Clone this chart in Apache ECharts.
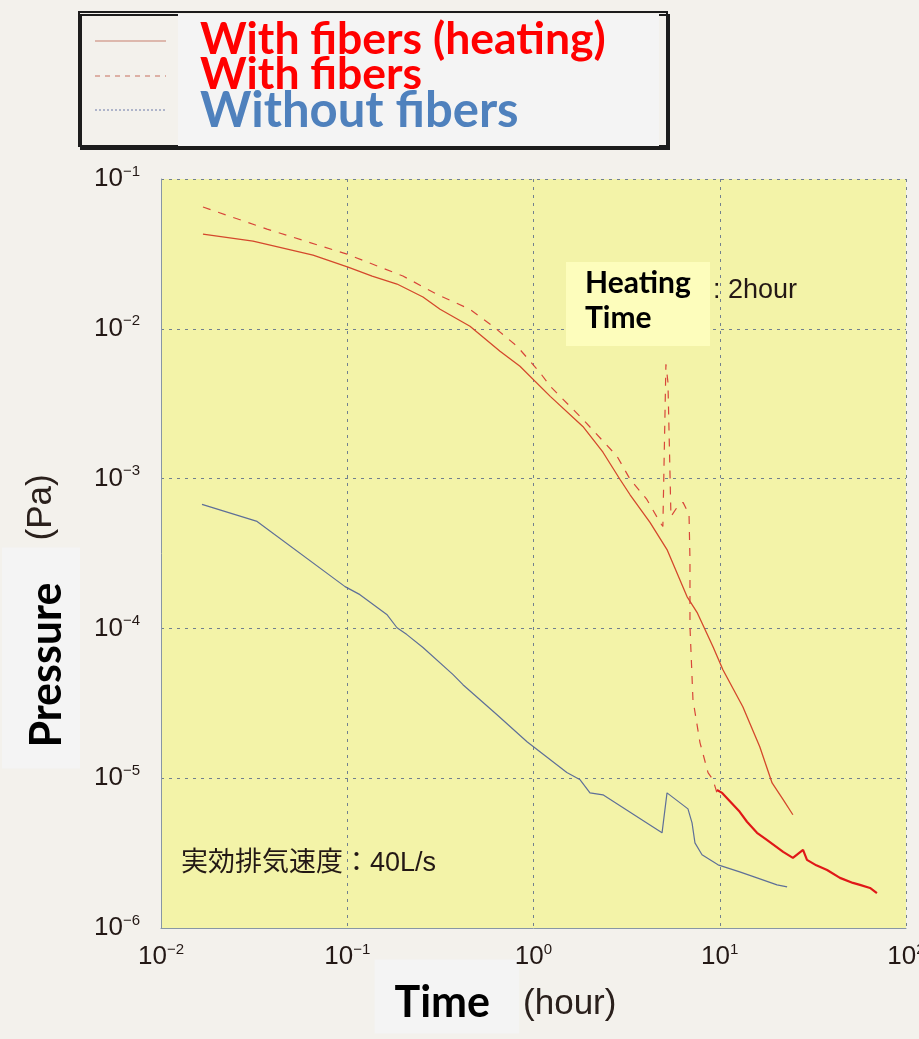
<!DOCTYPE html>
<html><head><meta charset="utf-8">
<script src="https://cdn.jsdelivr.net/npm/echarts@6/dist/echarts.min.js"></script>
<style>html,body{margin:0;padding:0;background:#f3f1ec;}#chart{width:919px;height:1039px;}</style>
</head><body><div id="chart"></div>
<script>
// ---- data (time in hours, pressure in Pa) ----
const xTicks = [0.01, 0.1, 1, 10, 100];
const yTicks = [1e-6, 1e-5, 1e-4, 1e-3, 1e-2, 1e-1];

const heatingTime = [0.0168, 0.0312, 0.0655, 0.101, 0.136, 0.185, 0.255, 0.315, 0.456, 0.661, 0.846, 1.23, 1.84, 2.36, 2.91, 3.30, 4.22, 5.21, 6.67, 7.55, 9.2, 10.4, 13.3, 16.4, 19.1, 21.9, 24.7];
const heatingPressure = [0.0429, 0.0385, 0.0310, 0.0258, 0.0225, 0.0199, 0.0163, 0.0135, 0.0104, 0.00708, 0.00562, 0.00354, 0.00223, 0.00150, 9.9e-4, 7.8e-4, 5.1e-4, 3.36e-4, 1.63e-4, 1.28e-4, 7.55e-5, 5.3e-5, 3.0e-5, 1.62e-5, 9.3e-6, 7.2e-6, 5.7e-6];

const fibersTime = [0.0168, 0.0371, 0.0997, 0.199, 0.303, 0.456, 0.606, 0.815, 1.08, 1.23, 1.84, 2.81, 3.30, 4.06, 4.78, 4.95, 5.14, 5.27, 5.41, 5.47, 5.89, 6.35, 6.84, 6.92, 6.92, 7.18, 7.83, 8.65, 9.2, 9.66];
const fibersPressure = [0.0650, 0.0463, 0.0315, 0.0225, 0.0170, 0.0135, 0.0104, 0.00766, 0.00513, 0.00413, 0.00249, 0.00141, 9.9e-4, 7.26e-4, 5.1e-4, 4.79e-4, 5.8e-3, 4.40e-3, 1.035e-3, 5.58e-4, 6.41e-4, 6.94e-4, 5.77e-4, 2.88e-4, 1.03e-4, 3.34e-5, 1.73e-5, 1.09e-5, 9.75e-6, 7.98e-6];

const fibersTailTime = [9.66, 10.3, 12.8, 14.0, 15.85, 17.9, 21.9, 24.7, 28.0, 29.4, 33.0, 37.7, 44.2, 51.9, 56.6, 64.1, 69.8];
const fibersTailPressure = [8.35e-6, 7.98e-6, 5.96e-6, 5.12e-6, 4.32e-6, 3.87e-6, 3.22e-6, 2.94e-6, 3.32e-6, 2.85e-6, 2.62e-6, 2.44e-6, 2.16e-6, 2.0e-6, 1.94e-6, 1.85e-6, 1.71e-6];

const noFiberTime = [0.0166, 0.0328, 0.0973, 0.117, 0.163, 0.185, 0.209, 0.255, 0.370, 0.418, 0.637, 0.923, 1.51, 1.78, 2.01, 2.36, 4.06, 4.90, 5.21, 6.75, 7.10, 7.36, 8.03, 9.79, 12.8, 15.85, 20.3, 23.0];
const noFiberPressure = [6.73e-4, 5.18e-4, 1.90e-4, 1.68e-4, 1.24e-4, 1.01e-4, 9.09e-5, 7.45e-5, 4.91e-5, 4.21e-5, 2.65e-5, 1.75e-5, 1.09e-5, 9.75e-6, 7.98e-6, 7.74e-6, 5.03e-6, 4.32e-6, 7.98e-6, 6.24e-6, 5.03e-6, 3.70e-6, 3.08e-6, 2.64e-6, 2.37e-6, 2.16e-6, 1.94e-6, 1.88e-6];

// ---- rendering ----
const pairs = (xs, ys) => xs.map((x, i) => [x, ys[i]]);
const NARROW = "'Liberation Sans Narrow', 'Arial Narrow', 'Liberation Sans', sans-serif";
const REG = "'Liberation Sans', 'Noto Sans CJK JP', sans-serif";
const BOLD = "Lato, 'Open Sans', sans-serif";
function powLabel(v) {
  const e = Math.round(Math.log10(v));
  const s = e < 0 ? '\u2212' + (-e) : String(e);
  return '{b|10}{s|' + s + '}';
}
const tickRich = {
  b: { fontFamily: NARROW, fontSize: 26, color: '#231815', lineHeight: 30 },
  s: { fontFamily: NARROW, fontSize: 15, color: '#231815', lineHeight: 14, verticalAlign: 'top' }
};
const gridLine = { show: true, lineStyle: { color: '#71808f', type: [3, 5], width: 1 } };

const chart = echarts.init(document.getElementById('chart'), null, { renderer: 'canvas' });
chart.setOption({
  backgroundColor: '#f3f1ec',
  animation: false,
  grid: { left: 161, right: 13, top: 179, bottom: 111, outerBoundsMode: 'none', containLabel: false,
          show: true, backgroundColor: '#f3f3a8', borderWidth: 0 },
  xAxis: {
    type: 'log', logBase: 10, min: xTicks[0], max: xTicks[xTicks.length - 1],
    axisLine: { show: true, lineStyle: { color: '#8796a5', width: 1 } },
    axisTick: { show: false },
    splitLine: gridLine,
    axisLabel: { formatter: powLabel, margin: 14, rich: tickRich },
    name: '{b|Time}{r|(hour)}{s| }',
    nameLocation: 'middle', nameGap: 43, nameMoveOverlap: false,
    nameTextStyle: { rich: {
      b: { fontFamily: BOLD, fontWeight: 'bold', fontSize: 43, color: '#000', backgroundColor: '#f4f4f4', lineHeight: 50, padding: [22, 29, 9, 20], verticalAlign: 'middle' },
      r: { fontFamily: REG, fontSize: 35, color: '#2a201c', padding: [16, 0, 0, 4], verticalAlign: 'middle' },
      s: { width: 76, fontSize: 10 }
    } }
  },
  yAxis: {
    type: 'log', logBase: 10, min: yTicks[0], max: yTicks[yTicks.length - 1],
    axisLine: { show: true, lineStyle: { color: '#8796a5', width: 1 } },
    axisTick: { show: false },
    splitLine: gridLine,
    axisLabel: { formatter: powLabel, margin: 21, rich: tickRich },
    name: '{b|Pressure}{r|(Pa)}{s| }',
    nameLocation: 'middle', nameRotate: 90, nameGap: 92, nameMoveOverlap: false,
    nameTextStyle: { rich: {
      b: { fontFamily: BOLD, fontWeight: 'bold', fontSize: 43, color: '#000', backgroundColor: '#f4f4f4', lineHeight: 56, padding: [24, 35, 11, 21], verticalAlign: 'middle' },
      r: { fontFamily: REG, fontSize: 35, color: '#2a201c', padding: [0, 0, 0, 7], verticalAlign: 'middle' },
      s: { width: 136, fontSize: 10 }
    } }
  },
  series: [
    { type: 'line', name: 'With fibers (heating)', data: pairs(heatingTime, heatingPressure), symbol: 'none',
      lineStyle: { color: '#d4482c', width: 1.3 }, z: 3 },
    { type: 'line', name: 'With fibers', data: pairs(fibersTime, fibersPressure), symbol: 'none',
      lineStyle: { color: '#d8463a', width: 1.2, type: [8, 8] }, z: 3 },
    { type: 'line', name: 'With fibers tail', data: pairs(fibersTailTime, fibersTailPressure), symbol: 'none',
      lineStyle: { color: '#e01818', width: 2.2 }, z: 3 },
    { type: 'line', name: 'Without fibers', data: pairs(noFiberTime, noFiberPressure), symbol: 'none',
      lineStyle: { color: '#5e6f98', width: 1.2 }, z: 3 }
  ],
  graphic: [
    // legend box
    { type: 'rect', z: 10, shape: { x: 79, y: 12, width: 588, height: 134 },
      style: { fill: '#f3f1ec', stroke: '#1c1c1c', lineWidth: 2, shadowColor: '#1c1c1c', shadowOffsetX: 2, shadowOffsetY: 3, shadowBlur: 0 } },
    { type: 'rect', z: 11, shape: { x: 178, y: 14, width: 481, height: 132 }, style: { fill: '#f4f4f4' } },
    { type: 'line', z: 11, shape: { x1: 95, y1: 41, x2: 166, y2: 41 }, style: { stroke: '#c8806e', lineWidth: 1.2 } },
    { type: 'line', z: 11, shape: { x1: 95, y1: 76, x2: 166, y2: 76 }, style: { stroke: '#c8705e', lineWidth: 1.2, lineDash: [5, 5] } },
    { type: 'line', z: 11, shape: { x1: 95, y1: 110, x2: 166, y2: 110 }, style: { stroke: '#6a78a8', lineWidth: 1, lineDash: [2, 2] } },
    { type: 'text', z: 12, x: 200, y: 40, style: { text: 'With fibers (heating)', font: 'bold 44.5px Lato, sans-serif', fill: '#ff0000', verticalAlign: 'middle' } },
    { type: 'text', z: 12, x: 200, y: 75, style: { text: 'With fibers', font: 'bold 44.5px Lato, sans-serif', fill: '#ff0000', verticalAlign: 'middle' } },
    { type: 'text', z: 12, x: 200, y: 111, style: { text: 'Without fibers', font: 'bold 49px Lato, sans-serif', fill: '#4f81bd', verticalAlign: 'middle' } },
    // heating time annotation
    { type: 'rect', z: 10, shape: { x: 566, y: 262, width: 144, height: 84 }, style: { fill: '#fdfdbc' } },
    { type: 'text', z: 12, x: 585, y: 283, style: { text: 'Heating', font: 'bold 30px Lato, sans-serif', fill: '#000', verticalAlign: 'middle' } },
    { type: 'text', z: 12, x: 585, y: 318, style: { text: 'Time', font: 'bold 30px Lato, sans-serif', fill: '#000', verticalAlign: 'middle' } },
    { type: 'text', z: 12, x: 713, y: 291, style: { text: ': 2hour', font: "27px 'Liberation Sans', sans-serif", fill: '#231815', verticalAlign: 'middle' } },
    // pumping speed note
    { type: 'text', z: 12, x: 181, y: 864, style: { text: '実効排気速度：40L/s', font: "27px 'Liberation Sans', 'Noto Sans CJK JP', sans-serif", fill: '#231815', verticalAlign: 'middle' } }
  ]
});
</script></body></html>
